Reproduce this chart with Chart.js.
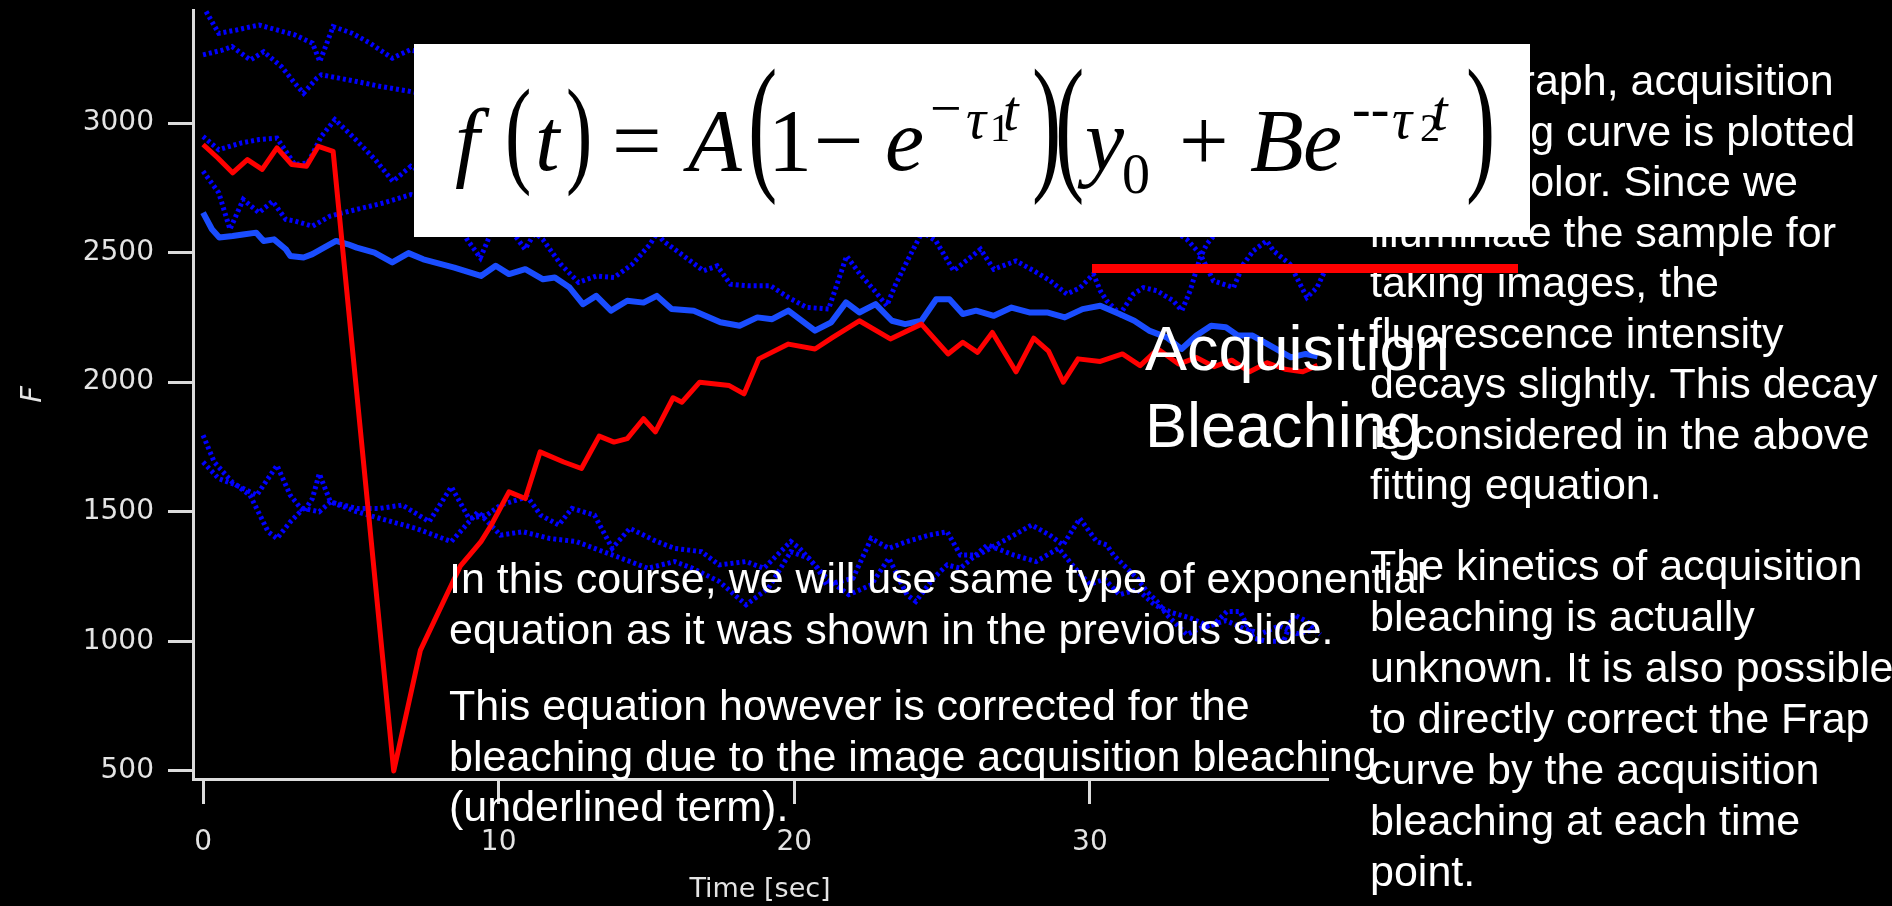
<!DOCTYPE html>
<html>
<head>
<meta charset="utf-8">
<script src="https://cdn.jsdelivr.net/npm/chart.js@4.4.1/dist/chart.umd.min.js"></script>
<style>
  html, body { margin: 0; padding: 0; background: #000; }
  #wrap { position: relative; width: 1892px; height: 906px; overflow: hidden; background: #000; }
  #chart, #slide { position: absolute; left: 0; top: 0; }
  #slide { pointer-events: none; }
  .txt { font-family: "Liberation Sans", Arial, sans-serif; fill: #fff; }
  .eq { font-family: "Liberation Serif", "Times New Roman", serif; fill: #000; }
  .it { font-style: italic; }
</style>
</head>
<body>
<div id="wrap">
  <canvas id="chart" width="1892" height="906"></canvas>
  <svg id="slide" width="1892" height="906" viewBox="0 0 1892 906" xmlns="http://www.w3.org/2000/svg">
    <!-- right column notes (partly under the equation box) -->
    <g class="txt" font-size="43">
      <text x="1370" y="95">In this graph, acquisition</text>
      <text x="1370" y="145.5">bleaching curve is plotted</text>
      <text x="1370" y="196">in blue color. Since we</text>
      <text x="1370" y="246.5">illuminate the sample for</text>
      <text x="1370" y="297">taking images, the</text>
      <text x="1370" y="347.5">fluorescence intensity</text>
      <text x="1370" y="398">decays slightly. This decay</text>
      <text x="1370" y="448.5">is considered in the above</text>
      <text x="1370" y="499">fitting equation.</text>
      <text x="1370" y="580">The kinetics of acquisition</text>
      <text x="1370" y="631">bleaching is actually</text>
      <text x="1370" y="682">unknown. It is also possible</text>
      <text x="1370" y="733">to directly correct the Frap</text>
      <text x="1370" y="784">curve by the acquisition</text>
      <text x="1370" y="835">bleaching at each time</text>
      <text x="1370" y="886">point.</text>
    </g>

    <!-- fitting equation -->
    <rect x="414" y="44" width="1116" height="193" fill="#fff"/>
    <g class="eq">
      <text class="it" x="455" y="170" font-size="88">f</text>
      <text transform="translate(505 171) scale(0.9 1.35)" font-size="88">(</text>
      <text class="it" x="535" y="170" font-size="88">t</text>
      <text transform="translate(566 171) scale(0.9 1.35)" font-size="88">)</text>
      <text x="612" y="170" font-size="88">=</text>
      <text class="it" x="688" y="170" font-size="88">A</text>
      <text transform="translate(748 173) scale(1 1.7)" font-size="88">(</text>
      <text x="768" y="170" font-size="88">1</text>
      <text x="814" y="170" font-size="88">−</text>
      <text class="it" x="885" y="170" font-size="88">e</text>
      <text x="930" y="127" font-size="56">−</text>
      <text class="it" x="966" y="138" font-size="56">τ</text>
      <text x="990" y="141" font-size="40">1</text>
      <text class="it" x="1003" y="130" font-size="56">t</text>
      <text transform="translate(1032 173) scale(1 1.7)" font-size="88">)</text>
      <text transform="translate(1055 173) scale(1 1.7)" font-size="88">(</text>
      <text class="it" x="1085" y="170" font-size="88">y</text>
      <text x="1122" y="193" font-size="56">0</text>
      <text x="1179" y="170" font-size="88">+</text>
      <text class="it" x="1250" y="170" font-size="88">B</text>
      <text class="it" x="1303" y="170" font-size="88">e</text>
      <text x="1352" y="127" font-size="56">--</text>
      <text class="it" x="1392" y="138" font-size="56">τ</text>
      <text x="1420" y="141" font-size="40">2</text>
      <text class="it" x="1432" y="130" font-size="56">t</text>
      <text transform="translate(1466 173) scale(1 1.7)" font-size="88">)</text>
    </g>
    <rect x="1092" y="264" width="426" height="9" fill="#ff0000"/>

    <g class="txt" font-size="63">
      <text x="1145" y="370">Acquisition</text>
      <text x="1145" y="447">Bleaching</text>
    </g>

    <g class="txt" font-size="43">
      <text x="449" y="593">In this course, we will use same type of exponential</text>
      <text x="449" y="644">equation as it was shown in the previous slide.</text>
      <text x="449" y="720">This equation however is corrected for the</text>
      <text x="449" y="771">bleaching due to the image acquisition bleaching</text>
      <text x="449" y="821">(underlined term).</text>
    </g>
  </svg>
</div>

<script>
// FRAP recovery (red)
const frapTime = [0, 0.5, 1.0, 1.5, 2.0, 2.5, 3.0, 3.5, 3.9, 4.4,
  6.45, 7.35, 8.7, 9.4, 9.75, 10.35, 10.9, 11.4, 12.2, 12.8,
  13.4, 13.9, 14.35, 14.9, 15.3, 15.9, 16.2, 16.8, 17.8, 18.3,
  18.8, 19.8, 20.7, 21.3, 22.2, 23.25, 24.3, 25.2, 25.7, 26.2,
  26.7, 27.5, 28.1, 28.6, 29.1, 29.6, 30.35, 31.1, 31.7, 32.3,
  33.0, 33.6, 34.2, 34.8, 35.4, 36.0, 36.6, 37.2, 37.7];
const frapF = [2917, 2865, 2808, 2859, 2821, 2904, 2840, 2833, 2910, 2891,
  500, 965, 1290, 1385, 1449, 1577, 1551, 1731, 1692, 1667,
  1792, 1769, 1782, 1859, 1808, 1940, 1923, 2000, 1987, 1955,
  2090, 2147, 2128, 2173, 2237, 2167, 2224, 2109, 2154, 2115,
  2192, 2040, 2170, 2120, 2000, 2090, 2080, 2109, 2064, 2128,
  2070, 2095, 2060, 2085, 2040, 2075, 2050, 2040, 2065];

// acquisition bleaching (solid blue)
const acqTime = [0, 0.3, 0.55, 1.0, 1.35, 1.8, 2.05, 2.4, 2.8, 2.95,
  3.4, 3.7, 4.0, 4.5, 4.9, 5.2, 5.8, 6.4, 6.95, 7.45,
  8.5, 9.4, 9.9, 10.35, 10.9, 11.5, 11.9, 12.4, 12.85, 13.3,
  13.8, 14.35, 14.9, 15.35, 15.85, 16.6, 17.5, 18.15, 18.75, 19.25,
  19.8, 20.7, 21.25, 21.75, 22.2, 22.75, 23.3, 23.75, 24.3, 24.8,
  25.25, 25.7, 26.15, 26.75, 27.35, 27.95, 28.55, 29.15, 29.75, 30.35,
  31.0, 31.5, 32.0, 32.6, 33.1, 33.6, 34.1, 34.6, 35.0, 35.5,
  36.1, 36.8, 37.3, 37.7];
const acqF = [2654, 2590, 2558, 2564, 2570, 2577, 2545, 2551, 2513, 2487,
  2481, 2494, 2513, 2545, 2532, 2519, 2500, 2462, 2498, 2474,
  2442, 2410, 2449, 2417, 2436, 2397, 2404, 2365, 2301, 2333,
  2276, 2314, 2307, 2333, 2282, 2276, 2231, 2218, 2250, 2243,
  2276, 2199, 2231, 2308, 2269, 2301, 2237, 2224, 2237, 2320,
  2320, 2263, 2276, 2256, 2288, 2269, 2269, 2250, 2282, 2295,
  2263, 2237, 2199, 2173, 2128, 2180, 2218, 2212, 2180, 2180,
  2141, 2096, 2109, 2100];

// single-region traces (dotted blue)
const dotATime = [0, 0.53, 1.13, 1.9, 2.5, 3.1, 3.7, 3.95, 4.4, 5.05, 5.65, 6.4, 7.0,
  8, 10, 13, 16, 20, 24, 28, 32, 36, 38];
const dotAF = [3450, 3346, 3359, 3378, 3359, 3340, 3308, 3237, 3372, 3346, 3308, 3250, 3282,
  3260, 3240, 3220, 3230, 3200, 3190, 3180, 3170, 3160, 3150];

const dotBTime = [0, 0.68, 0.98, 1.6, 2.05, 2.65, 3.1, 3.4, 3.85, 4.0, 4.6, 5.2, 6.0, 7.0,
  8, 11, 15, 19, 23, 27, 31, 35, 38];
const dotBF = [3263, 3282, 3295, 3243, 3275, 3218, 3154, 3115, 3173, 3186, 3173, 3160, 3141, 3122,
  3100, 3080, 3060, 3040, 3020, 3000, 2980, 2960, 2950];

const dotCTime = [0, 0.53, 1.29, 1.89, 2.5, 3.1, 3.55, 4.0, 4.46, 5.06, 5.82, 6.42, 7.03,
  7.6, 8.3, 8.93, 9.38, 9.68, 10.1, 10.59, 10.89, 11.19, 11.8, 13, 14.5,
  16, 17.5, 19, 20.5, 22, 23.5, 25, 26.5, 28, 29.5, 31, 32.5,
  33.28, 33.73, 34.18, 34.86, 35.19, 35.53, 35.98, 36.21, 36.77, 37.11, 37.34, 37.68, 38.0];
const dotCF = [2948, 2897, 2923, 2936, 2942, 2840, 2846, 2948, 3013, 2948, 2859, 2775, 2833,
  2800, 2690, 2551, 2480, 2560, 2640, 2560, 2513, 2570, 2660, 2700, 2680,
  2700, 2660, 2690, 2650, 2670, 2640, 2650, 2630, 2640, 2620, 2630, 2610,
  2551, 2494, 2391, 2365, 2455, 2507, 2545, 2507, 2455, 2378, 2327, 2365, 2442];

const dotDTime = [0, 0.53, 0.91, 1.36, 1.89, 2.35, 2.8, 3.1, 3.7, 4.3, 5.21, 6.12, 7.03,
  7.5, 8.4, 9.5, 10.5, 11.0, 11.49, 12.1, 12.7, 13.31, 13.91, 14.52, 15.12,
  15.35, 15.57, 16.33, 16.93, 17.39, 17.84, 18.44, 19.2, 19.8, 20.41, 21.16, 21.77,
  22.22, 22.67, 23.13, 23.43, 23.88, 24.33, 24.79, 25.39, 26.3, 26.75, 27.5, 28.1,
  28.66, 29.22, 29.67, 30.12, 30.35, 30.57, 31.02, 31.47, 31.81, 32.26, 32.82, 33.11,
  33.39, 33.73, 33.95, 34.3, 35, 36, 37, 38];
const dotDF = [2814, 2731, 2590, 2705, 2654, 2698, 2628, 2622, 2602, 2641, 2667, 2692, 2724,
  2710, 2680, 2650, 2640, 2600, 2551, 2455, 2385, 2410, 2404, 2455, 2532,
  2575, 2545, 2481, 2430, 2449, 2378, 2372, 2372, 2327, 2289, 2282, 2487,
  2417, 2359, 2295, 2378, 2481, 2580, 2545, 2430, 2513, 2436, 2468, 2430,
  2391, 2340, 2365, 2417, 2353, 2314, 2263, 2340, 2365, 2353, 2314, 2276,
  2353, 2481, 2532, 2580, 2600, 2580, 2600, 2590];

const dotETime = [0, 0.38, 0.98, 1.59, 2.2, 2.5, 2.95, 3.4, 3.93, 4.31,
  5.21, 5.99, 6.74, 7.65, 8.4, 9.0, 9.6, 10.06, 10.97, 11.42,
  12.03, 12.48, 13.24, 13.84, 14.44, 15.35, 15.95, 16.86, 17.46, 18.37,
  18.97, 19.88, 20.18, 20.79, 21.09, 21.99, 22.6, 23.2, 23.81, 24.56,
  25.17, 25.62, 26.22, 26.83, 27.43, 28.03, 28.64, 29.09, 29.66, 30.23,
  30.57, 30.8, 31.25, 31.59, 31.93, 32.27, 32.6, 32.94, 33.28, 33.73,
  34.18, 34.63, 35.08, 35.53, 35.98, 36.55, 36.89, 37.34, 37.79];
const dotEF = [1795, 1692, 1615, 1564, 1423, 1397, 1461, 1513, 1500, 1538,
  1513, 1513, 1526, 1462, 1596, 1474, 1487, 1526, 1558, 1487,
  1449, 1513, 1487, 1359, 1436, 1385, 1359, 1346, 1295, 1308,
  1282, 1385, 1359, 1282, 1218, 1244, 1397, 1359, 1385, 1410,
  1423, 1333, 1333, 1372, 1410, 1449, 1410, 1372, 1474, 1385,
  1372, 1333, 1282, 1244, 1192, 1154, 1103, 1064, 1026, 1051,
  1064, 1115, 1115, 1013, 1000, 1000, 1103, 1077, 1026];

const dotFTime = [0, 0.53, 1.14, 1.82, 2.5, 2.95, 3.4, 3.7, 3.93, 4.31,
  5.21, 5.99, 7.2, 8.4, 9.3, 10.06, 10.82, 11.73, 12.63, 13.54,
  14.14, 15.05, 15.95, 16.56, 17.46, 18.37, 19.12, 19.88, 20.49, 21.09,
  21.84, 22.6, 23.2, 23.81, 24.11, 24.71, 25.17, 25.62, 26.53, 27.43,
  28.18, 28.94, 29.5, 30.0, 30.5, 31.0, 31.6, 32.2, 32.8, 33.4,
  34.0, 34.6, 35.2, 35.8, 36.4, 37.0, 37.6];
const dotFF = [1692, 1628, 1602, 1564, 1679, 1564, 1500, 1551, 1647, 1538,
  1500, 1474, 1436, 1385, 1500, 1410, 1423, 1397, 1385, 1346,
  1321, 1282, 1308, 1282, 1231, 1141, 1205, 1346, 1321, 1244,
  1180, 1218, 1321, 1180, 1154, 1244, 1295, 1282, 1372, 1333,
  1308, 1359, 1282, 1220, 1240, 1180, 1200, 1140, 1110, 1090,
  1060, 1080, 1050, 1030, 1060, 1030, 1045];

const timeTicks = [0, 10, 20, 30];
const fTicks = [500, 1000, 1500, 2000, 2500, 3000];

const axisColor = '#dcdcdc';
const labelColor = '#e4e4e4';

function pts(t, v) {
  return t.map((x, i) => ({ x: x, y: v[i] }));
}

function solid(t, v, color, w) {
  return { data: pts(t, v), borderColor: color, borderWidth: w, pointRadius: 0,
    tension: 0, borderJoinStyle: 'round', fill: false };
}

function dotted(t, v) {
  return { data: pts(t, v), borderColor: '#0000ff', borderWidth: 5, borderDash: [3, 3],
    pointRadius: 0, tension: 0, fill: false };
}

// first dataset is painted last, so red ends up on top
const datasets = [
  solid(frapTime, frapF, '#ff0000', 5),
  solid(acqTime, acqF, '#1a4dff', 6),
  dotted(dotATime, dotAF),
  dotted(dotBTime, dotBF),
  dotted(dotCTime, dotCF),
  dotted(dotDTime, dotDF),
  dotted(dotETime, dotEF),
  dotted(dotFTime, dotFF)
];

const tickFont = { family: 'DejaVu Sans', size: 28 };

new Chart(document.getElementById('chart'), {
  type: 'line',
  data: { datasets: datasets },
  options: {
    responsive: false,
    animation: false,
    devicePixelRatio: 1,
    layout: { padding: { left: 0, top: 10, right: 565, bottom: 0 } },
    plugins: { legend: { display: false }, tooltip: { enabled: false } },
    scales: {
      x: {
        type: 'linear',
        min: -0.34,
        max: 38.02,
        afterBuildTicks: s => { s.ticks = timeTicks.map(v => ({ value: v })); },
        afterFit: s => { s.height = 127; s.paddingLeft = 0; s.paddingRight = 0; },
        grid: { drawOnChartArea: false, drawTicks: true, tickLength: 25, color: axisColor, lineWidth: 3 },
        border: { display: true, color: axisColor, width: 3 },
        ticks: { color: labelColor, padding: 22, maxRotation: 0, font: tickFont,
          callback: v => String(v) },
        title: { display: true, text: 'Time [sec]', color: labelColor,
          font: { family: 'DejaVu Sans', size: 27 }, padding: { top: 0, bottom: 0 } }
      },
      y: {
        type: 'linear',
        min: 469,
        max: 3436,
        afterBuildTicks: s => { s.ticks = fTicks.map(v => ({ value: v })); },
        afterFit: s => { s.width = 193; s.paddingTop = 0; s.paddingBottom = 0; },
        grid: { drawOnChartArea: false, drawTicks: true, tickLength: 25, color: axisColor, lineWidth: 3 },
        border: { display: true, color: axisColor, width: 3 },
        ticks: { color: labelColor, padding: 14, font: tickFont,
          callback: v => String(v) },
        title: { display: true, text: 'F', color: labelColor,
          font: { family: 'DejaVu Sans', size: 29, style: 'italic' }, padding: { top: 16, bottom: 0 } }
      }
    }
  }
});
</script>
</body>
</html>
